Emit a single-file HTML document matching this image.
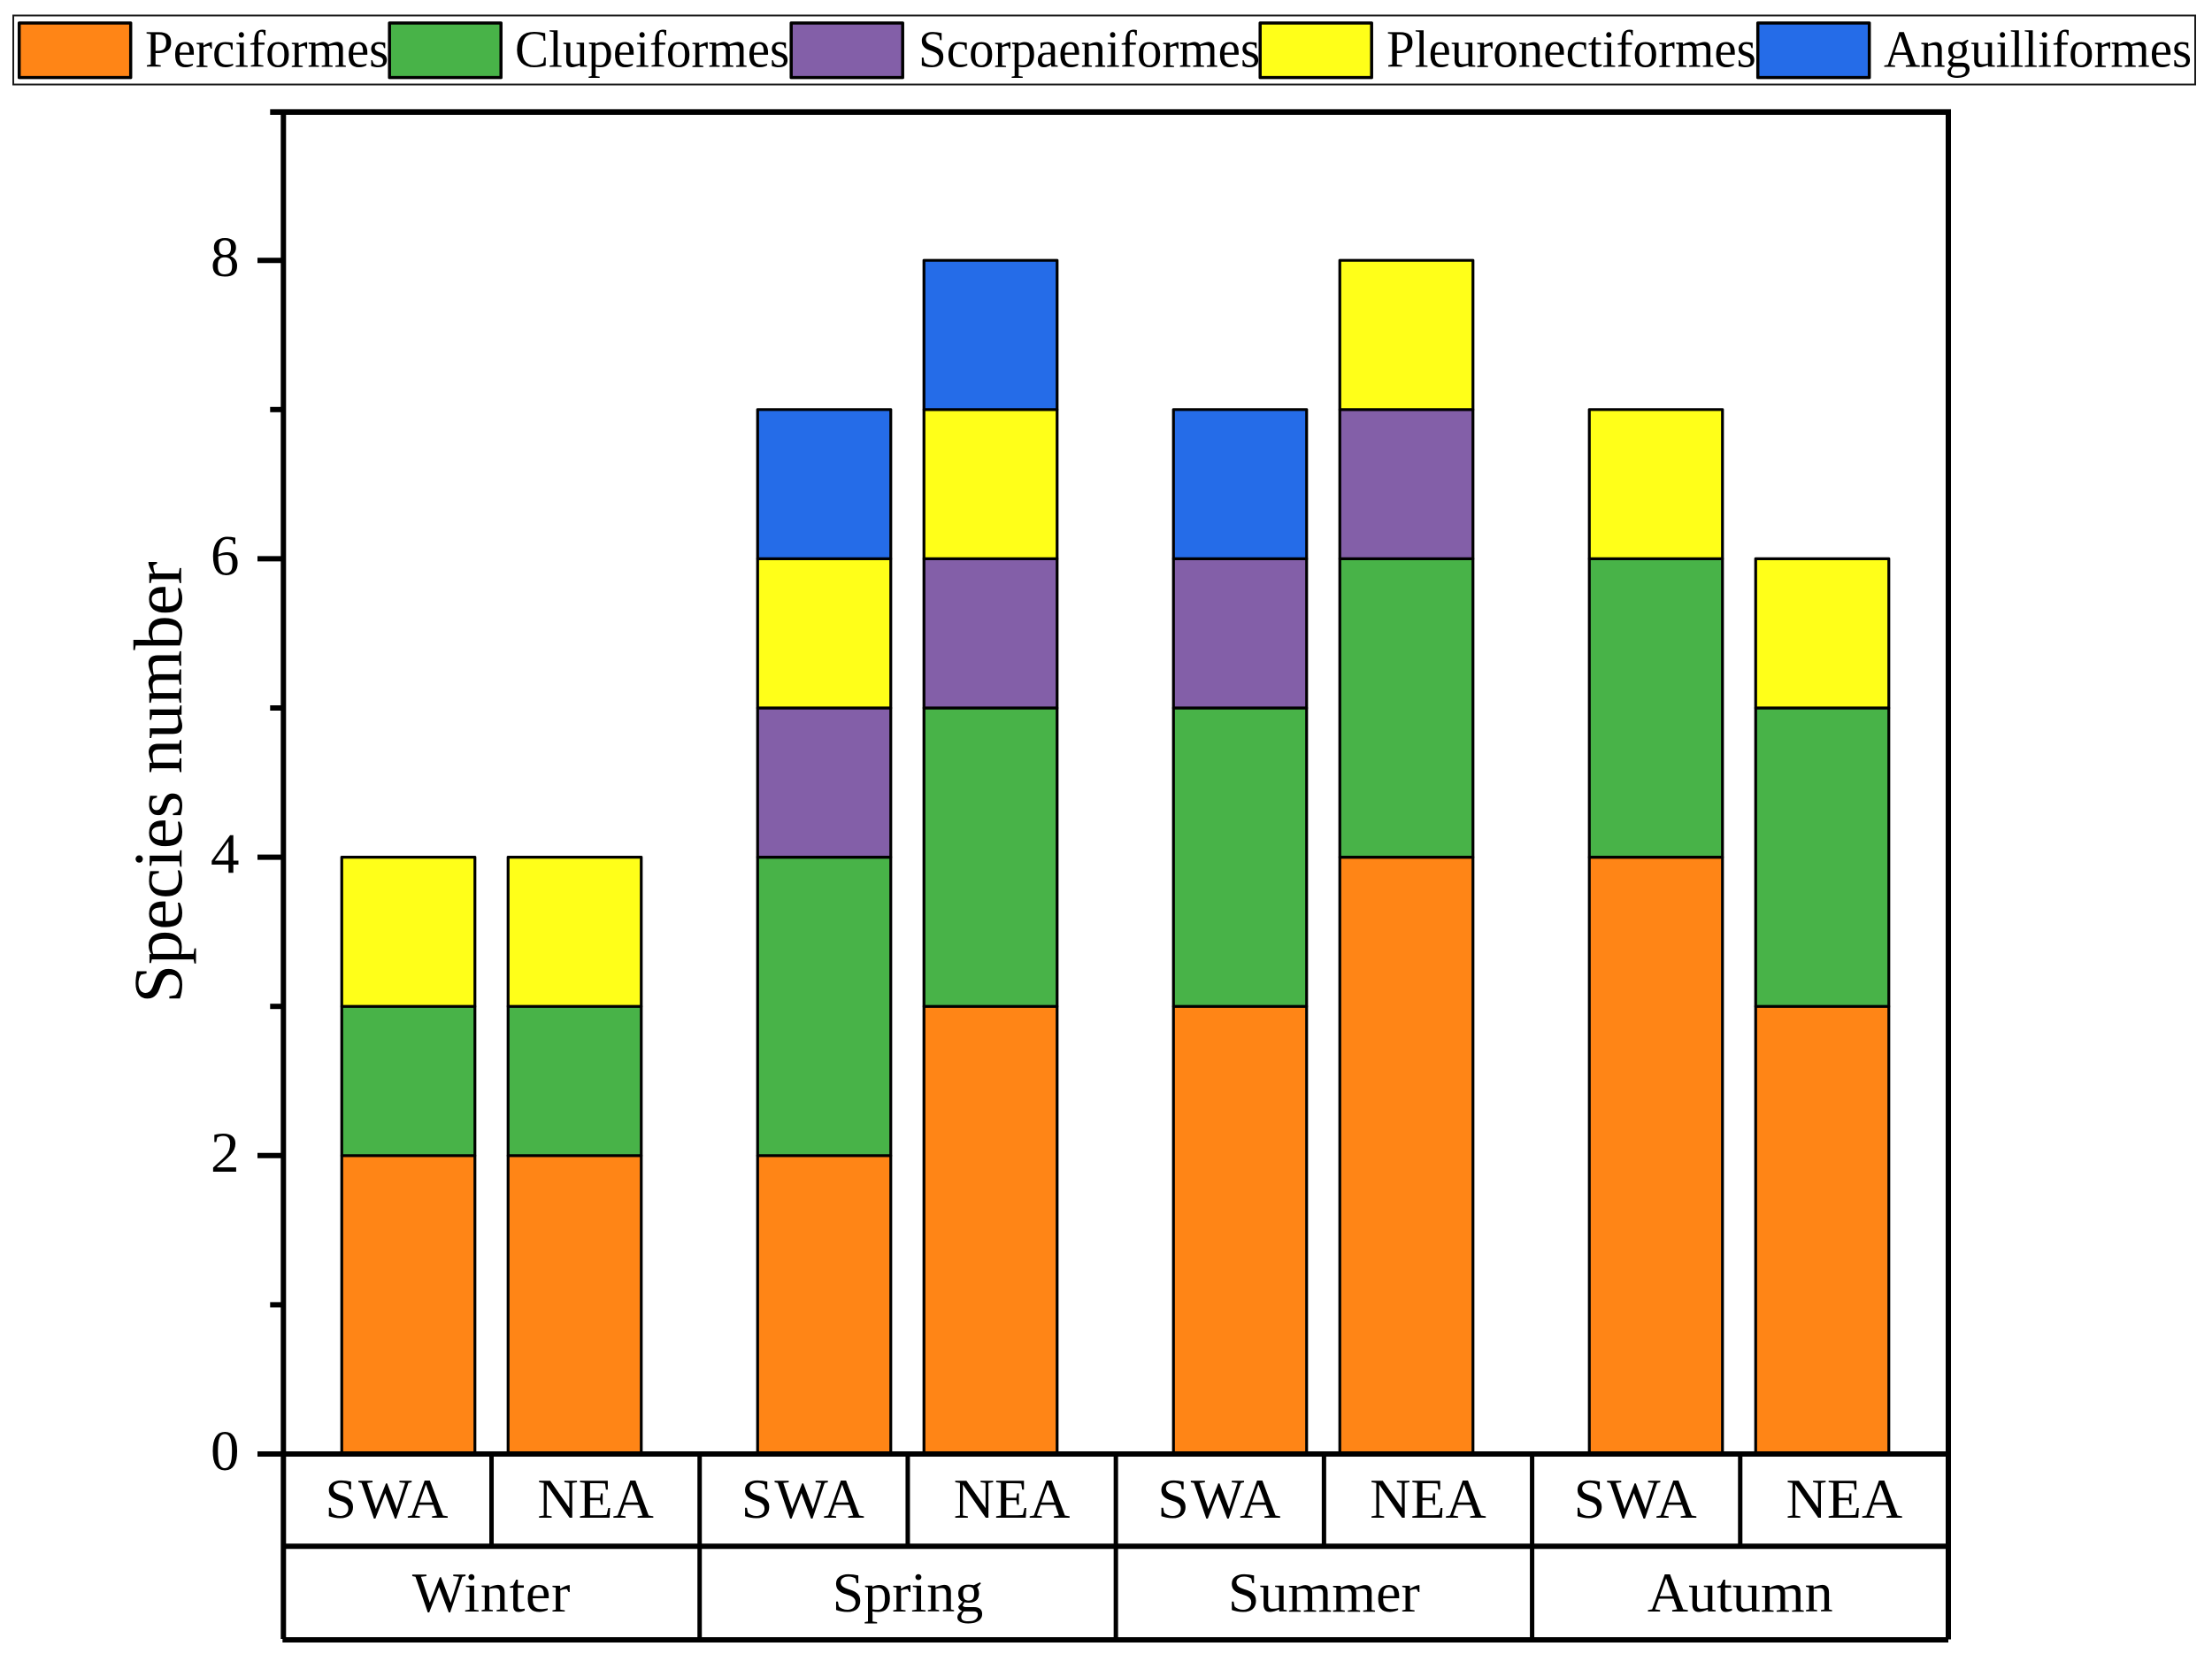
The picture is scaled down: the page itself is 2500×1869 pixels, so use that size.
<!DOCTYPE html>
<html lang="en">
<head>
<meta charset="utf-8">
<title>Species number by season and region</title>
<style>
html,body{margin:0;padding:0;background:#fff;}
body{width:2500px;height:1869px;overflow:hidden;}
svg{display:block;}
text{font-family:"Liberation Serif",serif;fill:#000;}
.lt{font-size:59px;}
</style>
</head>
<body>
<svg id="chart" xmlns="http://www.w3.org/2000/svg" width="2500" height="1869" viewBox="0 0 2500 1869">
  <g id="legend">
    <rect x="15" y="17.5" width="2466" height="78" fill="#fff" stroke="#1a1a1a" stroke-width="2"/>
    <rect x="21.7" y="26" width="126" height="61.6" fill="#FF8516" stroke="#000" stroke-width="3.5" stroke-linejoin="round"/>
    <text class="lt" transform="translate(164,75.5) scale(0.966,1)">Perciformes</text>
    <rect x="440.2" y="26" width="126" height="61.6" fill="#48B348" stroke="#000" stroke-width="3.5" stroke-linejoin="round"/>
    <text class="lt" transform="translate(582,75.5) scale(0.966,1)">Clupeiformes</text>
    <rect x="894.2" y="26" width="126" height="61.6" fill="#835FA8" stroke="#000" stroke-width="3.5" stroke-linejoin="round"/>
    <text class="lt" transform="translate(1038,75.5) scale(0.966,1)">Scorpaeniformes</text>
    <rect x="1424.2" y="26" width="126" height="61.6" fill="#FFFF19" stroke="#000" stroke-width="3.5" stroke-linejoin="round"/>
    <text class="lt" transform="translate(1567,75.5) scale(0.966,1)">Pleuronectiformes</text>
    <rect x="1986.7" y="26" width="126" height="61.6" fill="#256CE8" stroke="#000" stroke-width="3.5" stroke-linejoin="round"/>
    <text class="lt" transform="translate(2129,75.5) scale(0.966,1)">Anguilliformes</text>
  </g>
  <text transform="translate(205,884) rotate(-90)" text-anchor="middle" font-size="78.5">Species number</text>
  <g id="bars"></g>
  <g id="axes"></g>
</svg>
<script>
const seasons = ["Winter", "Spring", "Summer", "Autumn"];
const regions = ["SWA", "NEA"];
const seriesNames = ["Perciformes", "Clupeiformes", "Scorpaeniformes", "Pleuronectiformes", "Anguilliformes"];
const perciformes = [2, 2, 2, 3, 3, 4, 4, 3];
const clupeiformes = [1, 1, 2, 2, 2, 2, 2, 2];
const scorpaeniformes = [0, 0, 1, 1, 1, 1, 0, 0];
const pleuronectiformes = [1, 1, 1, 1, 0, 1, 1, 1];
const anguilliformes = [0, 0, 1, 1, 1, 0, 0, 0];
const majorTicks = [0, 2, 4, 6, 8];
const minorTicks = [1, 3, 5, 7];

const allSeries = [perciformes, clupeiformes, scorpaeniformes, pleuronectiformes, anguilliformes];
const seriesColors = ["#FF8516", "#48B348", "#835FA8", "#FFFF19", "#256CE8"];
const NS = "http://www.w3.org/2000/svg";
const barsLayer = document.getElementById("bars");
const axesLayer = document.getElementById("axes");

const PLOT_LEFT = 320.3, PLOT_RIGHT = 2202, PLOT_TOP = 126.6, ZERO_Y = 1643;
const UNIT = 168.6;
const ROW1_Y = 1747.3, ROW2_Y = 1853;
const BAR_W = 150.5;

function yScale(v) { return ZERO_Y - v * UNIT; }
function barCenter(season, region) { return 461.5 + 470 * season + 188 * region; }
function cellLeft(i) { return PLOT_LEFT + (PLOT_RIGHT - PLOT_LEFT) * i / (seasons.length * regions.length); }
function slug(s) { return s.toLowerCase().replace(/\s+/g, "-"); }

function make(tag, attrs, parent) {
  const el = document.createElementNS(NS, tag);
  for (const k in attrs) el.setAttribute(k, attrs[k]);
  parent.appendChild(el);
  return el;
}
function axisLine(x1, y1, x2, y2, w, name) {
  const el = make("line", { x1: x1, y1: y1, x2: x2, y2: y2, stroke: "#000", "stroke-width": w }, axesLayer);
  
  
}

/* stacked bars */
seasons.forEach(function (season, s) {
  regions.forEach(function (region, r) {
    const idx = s * regions.length + r;
    let base = 0;
    allSeries.forEach(function (values, k) {
      const v = values[idx];
      if (v > 0) {
        const yTop = yScale(base + v);
        const yBot = yScale(base);
        const bar = make("rect", {
          x: barCenter(s, r) - BAR_W / 2, y: yTop, width: BAR_W, height: yBot - yTop,
          fill: seriesColors[k], stroke: "#000", "stroke-width": 3.2, "stroke-linejoin": "round"
        }, barsLayer);
        
        
      }
      base += v;
    });
  });
});

/* y ticks */
majorTicks.forEach(function (v) {
  axisLine(291, yScale(v), PLOT_LEFT, yScale(v), 6, 'y-major-tick-' + v);
  const t = make("text", { x: 270.5, y: yScale(v) + 18, "text-anchor": "end", "font-size": 65 }, axesLayer);
  t.textContent = String(v);
  
  
});
minorTicks.forEach(function (v) {
  axisLine(305.3, yScale(v), PLOT_LEFT, yScale(v), 6, 'y-minor-tick-' + v);
});

/* frame */
axisLine(PLOT_LEFT, 123.6, PLOT_LEFT, 1852, 6, 'y-axis-line');
axisLine(PLOT_RIGHT, 123.6, PLOT_RIGHT, 1852.5, 6, 'right-axis-line');
axisLine(305.3, PLOT_TOP, PLOT_RIGHT + 3, PLOT_TOP, 6.5, 'top-axis-line');
axisLine(291, ZERO_Y, PLOT_RIGHT + 3, ZERO_Y, 6, 'x-axis-line');
axisLine(PLOT_LEFT, ROW1_Y, PLOT_RIGHT, ROW1_Y, 6, 'table-row-divider');
axisLine(PLOT_LEFT - 1, ROW2_Y, PLOT_RIGHT, ROW2_Y, 6, 'table-bottom-line');

/* category table */
const cellCount = seasons.length * regions.length;
for (let i = 1; i < cellCount; i++) {
  const isGroup = i % regions.length === 0;
  axisLine(cellLeft(i), ZERO_Y, cellLeft(i), isGroup ? ROW2_Y : ROW1_Y, 5, 'category-divider-' + i);
}
seasons.forEach(function (season, s) {
  regions.forEach(function (region, r) {
    const i = s * regions.length + r;
    const t = make("text", { x: (cellLeft(i) + cellLeft(i + 1)) / 2, y: 1715, "text-anchor": "middle", "font-size": 64 }, axesLayer);
    if (region === "SWA") t.setAttribute("letter-spacing", "2");
    t.textContent = region;
    
    
  });
  const left = cellLeft(s * regions.length);
  const right = cellLeft((s + 1) * regions.length);
  const g = make("text", { x: (left + right) / 2, y: 1821, "text-anchor": "middle", "font-size": 64 }, axesLayer);
  if (season === "Winter") g.setAttribute("letter-spacing", "0.7");
  g.textContent = season;
  
  
});
</script>
</body>
</html>
